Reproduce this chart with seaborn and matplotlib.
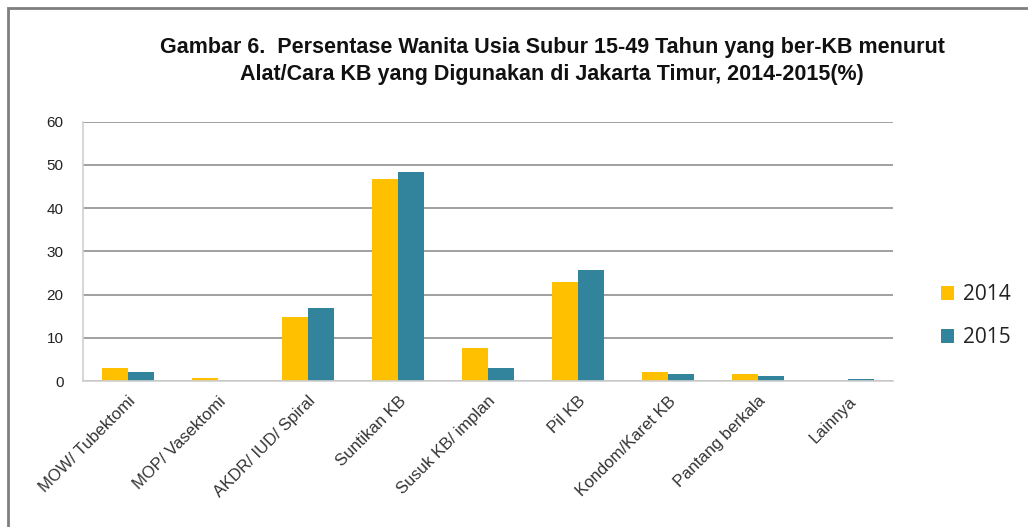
import matplotlib
matplotlib.use("Agg")
import matplotlib.pyplot as plt
import pandas as pd
import seaborn as sns
from matplotlib.patches import Rectangle

# ------------------------------------------------------------------
# Data
# ------------------------------------------------------------------

categories = [
    "MOW/ Tubektomi",
    "MOP/ Vasektomi",
    "AKDR/ IUD/ Spiral",
    "Suntikan KB",
    "Susuk KB/ implan",
    "Pil KB",
    "Kondom/Karet KB",
    "Pantang berkala",
    "Lainnya",
]
years = ["2014", "2015"]
values_2014 = [3.0, 0.7, 14.9, 46.8, 7.6, 22.8, 2.2, 1.6, 0.0]
values_2015 = [2.1, 0.0, 16.8, 48.3, 3.1, 25.7, 1.6, 1.2, 0.4]
yticks = [0, 10, 20, 30, 40, 50, 60]
colors = ["#FFC000", "#31849B"]

title = ("Gambar 6.  Persentase Wanita Usia Subur 15-49 Tahun yang ber-KB menurut\n"
         "Alat/Cara KB yang Digunakan di Jakarta Timur, 2014-2015(%)")

df = pd.DataFrame({
    "kategori": categories * 2,
    "tahun": [years[0]] * len(categories) + [years[1]] * len(categories),
    "persen": values_2014 + values_2015,
})

# ------------------------------------------------------------------
# Plot
# ------------------------------------------------------------------

sns.set_style("white")
plt.rcParams["font.family"] = ["Liberation Sans", "DejaVu Sans"]

fig = plt.figure(figsize=(10.28, 5.27), dpi=100)
ax = fig.add_axes([0.0807, 0.277, 0.788, 0.492])

sns.barplot(
    data=df,
    x="kategori",
    y="persen",
    hue="tahun",
    palette=colors,
    width=0.58,
    gap=0,
    saturation=1,
    linewidth=0,
    ax=ax,
)

ax.set_ylim(0, 60)
ax.set_xlim(-0.5, len(categories) - 0.5)
ax.set_yticks(yticks)
ax.set_yticklabels([str(t) for t in yticks], fontsize=11, color="#222222")
ax.yaxis.grid(True, color="#a0a0a0", linewidth=1.4)
ax.set_axisbelow(True)
ax.set_xlabel("")
ax.set_ylabel("")

for side in ["top", "right"]:
    ax.spines[side].set_visible(False)
ax.spines["left"].set_color("#d0d0d0")
ax.spines["bottom"].set_color("#d0d0d0")
ax.spines["left"].set_linewidth(1.2)
ax.spines["bottom"].set_linewidth(1.2)

# category labels at centres, tick marks at boundaries
ax.set_xticks(range(len(categories)))
ax.set_xticklabels(categories, rotation=45, ha="right", rotation_mode="anchor",
                   fontsize=12, color="#333333")
ax.tick_params(axis="x", length=0, pad=9)
ax.set_xticks([i - 0.5 for i in range(len(categories) + 1)], minor=True)
ax.tick_params(axis="x", which="minor", length=6, color="#c0c0c0", width=1.2)
ax.tick_params(axis="y", length=6, color="#c0c0c0", width=1.2, pad=8)

ax.legend(
    loc="center left",
    bbox_to_anchor=(1.036, 0.25),
    frameon=False,
    prop={"family": ["Open Sans", "DejaVu Sans"], "size": 15},
    handlelength=0.65,
    handleheight=0.65,
    handletextpad=0.4,
    labelspacing=1.05,
    labelcolor="#222222",
)

fig.text(
    0.537, 0.884, title,
    ha="center", va="center",
    fontsize=15.5, fontweight="bold",
    linespacing=1.35, color="#111111",
)

# outer frame of the picture
fig.patches.append(Rectangle((0.008, -0.05), 1.5, 1.035, transform=fig.transFigure,
                             fill=False, edgecolor="#7f7f7f", linewidth=2))

fig.savefig("out.png", dpi=100)
plt.close(fig)
